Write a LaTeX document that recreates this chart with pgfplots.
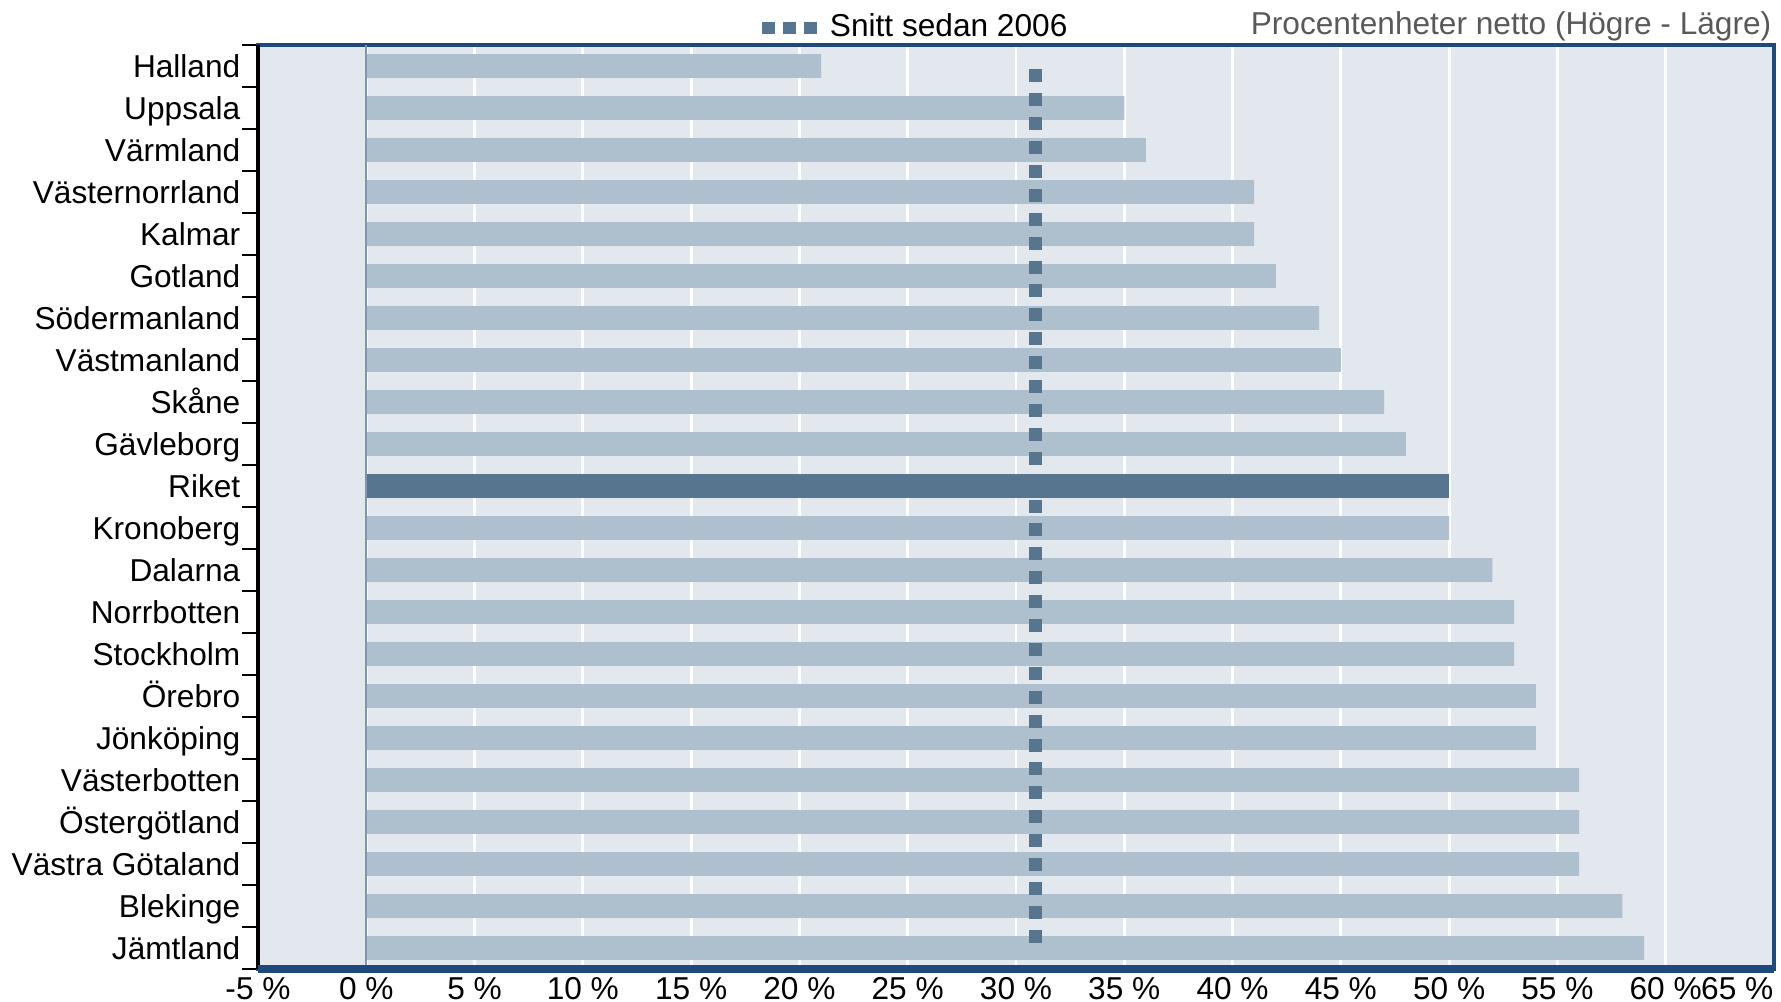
\documentclass[border=0pt]{standalone}
\usepackage{fontspec}
\setmainfont{Liberation Sans}
\usepackage{pgfplots}
\pgfplotsset{compat=1.18}
\definecolor{barlight}{HTML}{AEBFCD}
\definecolor{bardark}{HTML}{587590}
\definecolor{bgcol}{HTML}{E3E7EE}
\definecolor{frameblue}{HTML}{1F497D}
\definecolor{zerocol}{HTML}{7F95AD}
\definecolor{titlegray}{HTML}{595959}
\begin{document}
\begin{tikzpicture}[font=\fontsize{9}{11}\selectfont]
\begin{axis}[
  scale only axis, width=15.16cm, height=9.24cm,
  xmin=-5, xmax=65, ymin=-0.5, ymax=21.5, y dir=reverse,
  clip=false,
  axis background/.style={fill=bgcol},
  axis line style={draw=frameblue, line width=1.2pt},
  xtick={-5,0,...,65},
  xticklabels={-5 \%,0 \%,5 \%,10 \%,15 \%,20 \%,25 \%,30 \%,35 \%,40 \%,45 \%,50 \%,55 \%,60 \%,},
  xmajorgrids, major grid style={white, line width=0.8pt},
  ytick={0,...,21},
  yticklabels={Halland,Uppsala,Värmland,Västernorrland,Kalmar,Gotland,Södermanland,Västmanland,Skåne,Gävleborg,Riket,Kronoberg,Dalarna,Norrbotten,Stockholm,Örebro,Jönköping,Västerbotten,Östergötland,Västra Götaland,Blekinge,Jämtland},
  minor ytick={-0.5,0.5,...,21.5},
  ytick pos=left, tick align=outside,
  major tick length=0pt, minor tick length=1.6mm,
  minor y tick style={black, line width=0.7pt},
  yticklabel style={inner sep=0pt, xshift=-1.7mm, text height=6.5pt, text depth=0pt},
  xticklabel style={inner sep=0pt, yshift=-0.7mm, text height=6.5pt, text depth=0pt},
  legend style={at={(0.328,1)}, anchor=south west, yshift=-0.5mm, draw=none, fill=none, inner sep=0pt,
    font=\fontsize{9}{11}\selectfont},
  legend cell align=left,
]
\addplot[xbar, bar width=0.57, bar shift=0pt, fill=barlight, draw=none, forget plot] coordinates {
(21,0) (35,1) (36,2) (41,3) (41,4) (42,5) (44,6) (45,7) (47,8) (48,9)
(50,11) (52,12) (53,13) (53,14) (54,15) (54,16) (56,17) (56,18) (56,19) (58,20) (59,21)};
\addplot[xbar, bar width=0.57, bar shift=0pt, fill=bardark, draw=none, forget plot] coordinates {(50,10)};
\addplot[zerocol, line width=0.5pt, forget plot] coordinates {(0,-0.5) (0,21.5)};
\addplot[bardark, line width=1.3mm, dash pattern=on 1.3mm off 1.09mm,
  legend image code/.code={\draw[bardark, line width=1.25mm, dash pattern=on 1.25mm off 0.85mm] (0mm,0mm) -- (5.45mm,0mm);}]
  coordinates {(30.9,0.08) (30.9,20.92)};
\addlegendentry{Snitt sedan 2006}
\draw[black, line width=1.4pt] (axis description cs:0,0) -- (axis description cs:0,1);
\draw[frameblue, line width=2.2pt] (axis description cs:0,0) -- (axis description cs:1,0);
\node[anchor=base east, text=titlegray, inner sep=0pt, yshift=1.1mm, xshift=-0.2mm] at (axis description cs:1,1) {Procentenheter netto (Högre - Lägre)};
\node[anchor=north east, inner sep=0pt, text height=6.5pt, text depth=0pt, yshift=-0.7mm] at (axis description cs:1,0) {65 \%};
\end{axis}
\path (current axis.south west) ++(-2.58cm,-0.33cm) rectangle ++(17.81cm,10.02cm);
\end{tikzpicture}
\end{document}
